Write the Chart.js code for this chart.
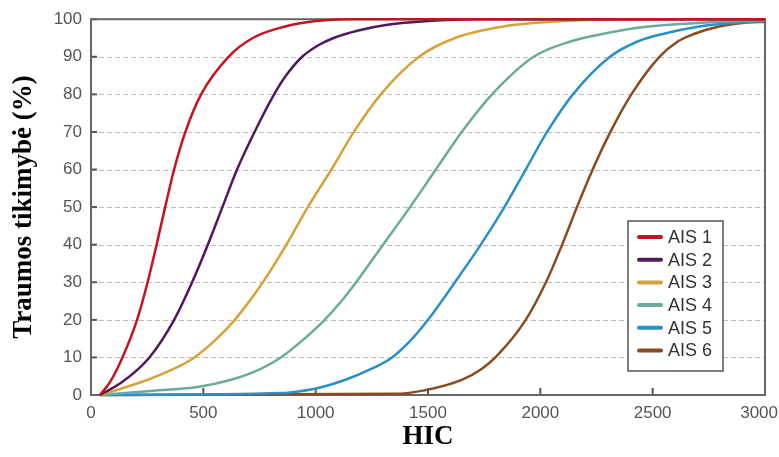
<!DOCTYPE html>
<html><head><meta charset="utf-8">
<script src="https://cdn.jsdelivr.net/npm/chart.js@4/dist/chart.umd.min.js"></script>
<style>html,body{margin:0;padding:0;background:#fff}#wrap{width:779px;height:457px;position:relative}</style>
</head><body><div id="wrap"><canvas id="c"></canvas></div>
<script>
const seriesNames = ['AIS 1', 'AIS 2', 'AIS 3', 'AIS 4', 'AIS 5', 'AIS 6'];
const seriesColors = ['#c4141f', '#52185e', '#d6a23a', '#6aab9b', '#2a90c8', '#8a4a20'];

const ais1Hic  = [40, 85, 140, 205, 252, 292, 330, 370, 420, 490, 612, 720, 860, 1000, 1150, 3000];
const ais1Prob = [0, 3.5, 10, 20, 30, 40, 50, 60, 70, 80, 90, 95, 98, 99.5, 100, 100];

const ais2Hic  = [40, 140, 260, 370, 450, 520, 585, 650, 728, 815, 868, 940, 1010, 1080, 1190, 1320, 1500, 1700, 3000];
const ais2Prob = [0, 3.5, 10, 20, 30, 40, 50, 60, 70, 80, 85, 90, 93, 95, 97, 98.5, 99.5, 100, 100];

const ais3Hic  = [40, 150, 250, 370, 460, 560, 640, 765, 870, 965, 1070, 1170, 1290, 1460, 1620, 1830, 2050, 2350, 3000];
const ais3Prob = [0, 2, 4, 7, 10, 15, 20, 30, 40, 50, 60, 70, 80, 90, 95, 98, 99.3, 100, 100];

const ais4Hic  = [40, 250, 480, 620, 720, 845, 950, 1040, 1115, 1180, 1300, 1420, 1535, 1650, 1785, 1970, 2130, 2270, 2470, 2700, 3000];
const ais4Prob = [0, 1, 2.2, 4, 6, 10, 15, 20, 25, 30, 40, 50, 60, 70, 80, 90, 94, 96, 98, 99, 99.7];

const ais5Hic  = [40, 850, 930, 1020, 1130, 1250, 1340, 1430, 1500, 1620, 1735, 1840, 1935, 2030, 2145, 2310, 2430, 2540, 2700, 2850, 3000];
const ais5Prob = [0, 0.5, 1, 2, 4, 7, 10, 15, 20, 30, 40, 50, 60, 70, 80, 90, 94, 96, 98, 99, 99.5];

const ais6Hic  = [40, 1350, 1490, 1650, 1740, 1800, 1935, 2025, 2097, 2163, 2233, 2312, 2405, 2530, 2610, 2680, 2790, 2900, 3000];
const ais6Prob = [0, 0.3, 1.3, 4, 7, 10, 20, 30, 40, 50, 60, 70, 80, 90, 94, 96, 98, 99, 99.3];

const xTickValues = [0, 500, 1000, 1500, 2000, 2500, 3000];
const yTickValues = [0, 10, 20, 30, 40, 50, 60, 70, 80, 90, 100];

const allHic = [ais1Hic, ais2Hic, ais3Hic, ais4Hic, ais5Hic, ais6Hic];
const allProb = [ais1Prob, ais2Prob, ais3Prob, ais4Prob, ais5Prob, ais6Prob];

const datasets = seriesNames.map((name, i) => ({
  label: name,
  data: allHic[i].map((h, j) => ({x: h, y: allProb[i][j]})),
  borderColor: seriesColors[i],
  backgroundColor: seriesColors[i],
  borderWidth: 2.5,
  pointRadius: 0,
  fill: false,
  cubicInterpolationMode: 'monotone',
  clip: 5
}));

const framePlugin = {
  id: 'frame',
  beforeDatasetsDraw(chart) {
    const {ctx, chartArea: {left, right, top, bottom}, scales: {x, y}} = chart;
    ctx.save();
    ctx.strokeStyle = '#bdbdbd';
    ctx.lineWidth = 1;
    ctx.setLineDash([5, 3]);
    yTickValues.forEach(v => {
      if (v <= 0 || v >= 100) return;
      const py = Math.round(y.getPixelForValue(v)) + 0.5;
      ctx.beginPath(); ctx.moveTo(left, py); ctx.lineTo(right, py); ctx.stroke();
    });
    ctx.setLineDash([]);
    ctx.strokeStyle = '#555';
    ctx.lineWidth = 2;
    yTickValues.forEach(v => {
      const py = y.getPixelForValue(v);
      ctx.beginPath(); ctx.moveTo(left, py); ctx.lineTo(left + 6, py); ctx.stroke();
    });
    xTickValues.forEach(v => {
      const px = x.getPixelForValue(v);
      ctx.beginPath(); ctx.moveTo(px, bottom); ctx.lineTo(px, bottom - 7); ctx.stroke();
    });
    ctx.strokeStyle = '#666';
    ctx.lineWidth = 2;
    ctx.strokeRect(left, top, right - left, bottom - top);
    ctx.restore();
  },
  afterDraw(chart) {
    const {ctx, chartArea: {bottom}, scales: {x}} = chart;
    ctx.save();
    ctx.font = '17px "Liberation Sans", Arial, sans-serif';
    ctx.fillStyle = '#555';
    ctx.textAlign = 'center';
    ctx.textBaseline = 'middle';
    xTickValues.forEach(v => {
      const label = String(v);
      const w = ctx.measureText(label).width;
      let px = x.getPixelForValue(v);
      if (px + w / 2 > chart.width - 1) px = chart.width - 1 - w / 2;
      ctx.fillText(label, px, bottom + 18);
    });
    const bx = 628, by = 221, bw = 95, bh = 150;
    ctx.fillStyle = '#fff';
    ctx.fillRect(bx, by, bw, bh);
    ctx.strokeStyle = '#555';
    ctx.lineWidth = 1.5;
    ctx.strokeRect(bx, by, bw, bh);
    ctx.font = '18px "Liberation Sans", Arial, sans-serif';
    ctx.textAlign = 'left';
    ctx.textBaseline = 'middle';
    seriesNames.forEach((name, i) => {
      const cy = by + 16 + i * 22.7;
      ctx.strokeStyle = seriesColors[i];
      ctx.lineWidth = 4;
      ctx.lineCap = 'round';
      ctx.beginPath(); ctx.moveTo(bx + 11, cy); ctx.lineTo(bx + 33, cy); ctx.stroke();
      ctx.fillStyle = '#333';
      ctx.fillText(name, bx + 40, cy + 1);
    });
    ctx.restore();
  }
};

new Chart(document.getElementById('c'), {
  type: 'line',
  data: {datasets},
  options: {
    responsive: true,
    maintainAspectRatio: false,
    animation: false,
    devicePixelRatio: 1,
    layout: {padding: {top: 19, right: 14, left: 0, bottom: 0}},
    plugins: {legend: {display: false}, tooltip: {enabled: false}},
    scales: {
      x: {
        type: 'linear', min: 0, max: 3000,
        ticks: {display: false, stepSize: 500},
        grid: {display: false, drawTicks: false},
        border: {display: false},
        title: {display: true, text: 'HIC', color: '#000',
          font: {family: '"Liberation Serif", "Times New Roman", serif', size: 27, weight: 'bold'},
          padding: {top: 0, bottom: 4}},
        afterFit(s) { s.height = 62; s.paddingLeft = 0; s.paddingRight = 0; }
      },
      y: {
        min: 0, max: 100,
        ticks: {stepSize: 10, padding: 9, color: '#555',
          font: {family: '"Liberation Sans", Arial, sans-serif', size: 17}},
        grid: {display: false, drawTicks: false},
        border: {display: false},
        title: {display: true, text: 'Traumos tikimybė (%)', color: '#000',
          font: {family: '"Liberation Serif", "Times New Roman", serif', size: 27, weight: 'bold'},
          padding: {top: 8, bottom: 0}},
        afterFit(s) { s.width = 91; }
      }
    }
  },
  plugins: [framePlugin]
});
</script></body></html>
